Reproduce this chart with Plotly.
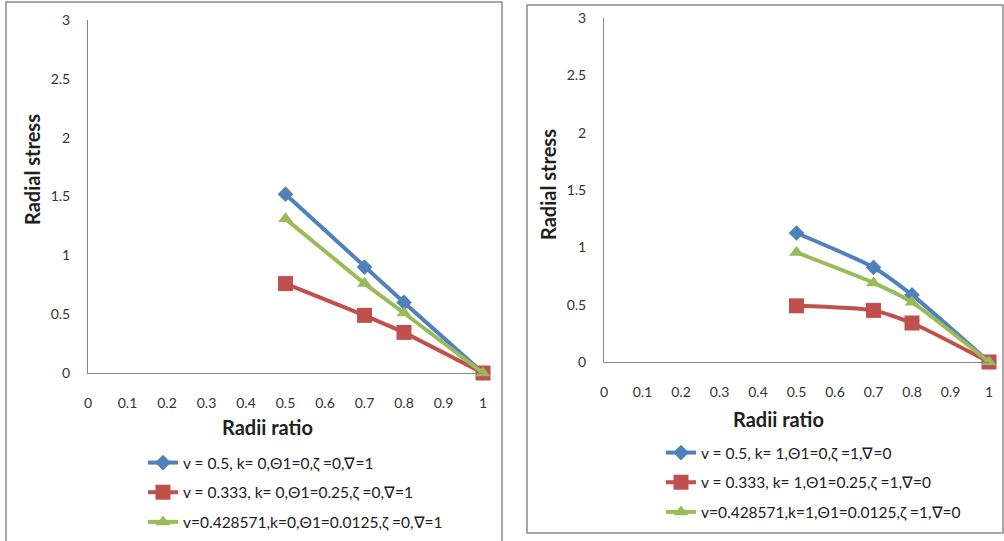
import plotly.graph_objects as go

W, H = 1004, 541

radii = [0.5, 0.7, 0.8, 1.0]

# Left chart (k=0, zeta=0, nabla=1)
left_blue = [1.52, 0.90, 0.60, 0.0]
left_red = [0.76, 0.49, 0.345, 0.0]
left_green = [1.31, 0.76, 0.51, 0.0]
left_names = [
    "v = 0.5, k= 0,Θ1=0,ζ =0,∇=1",
    "v = 0.333, k= 0,Θ1=0.25,ζ =0,∇=1",
    "v=0.428571,k=0,Θ1=0.0125,ζ =0,∇=1",
]

# Right chart (k=1, zeta=1, nabla=0)
right_blue = [1.125, 0.825, 0.585, 0.0]
right_red = [0.49, 0.45, 0.34, 0.0]
right_green = [0.955, 0.69, 0.52, 0.0]
right_names = [
    "v = 0.5, k= 1,Θ1=0,ζ =1,∇=0",
    "v = 0.333, k= 1,Θ1=0.25,ζ =1,∇=0",
    "v=0.428571,k=1,Θ1=0.0125,ζ =1,∇=0",
]

x_ticks = [0, 0.1, 0.2, 0.3, 0.4, 0.5, 0.6, 0.7, 0.8, 0.9, 1]
x_ticktext = ["0", "0.1", "0.2", "0.3", "0.4", "0.5", "0.6", "0.7", "0.8", "0.9", "1"]
y_ticks = [0, 0.5, 1, 1.5, 2, 2.5, 3]
y_ticktext = ["0", "0.5", "1", "1.5", "2", "2.5", "3"]

colors = ["#4F81BD", "#C0504D", "#9BBB59"]
symbols = ["diamond", "square", "triangle-up"]
msizes = [12, 15, 13]

FONT = "Lato, 'Open Sans', sans-serif"


def px(x):
    return x / W


def py(y):
    return 1 - y / H


fig = go.Figure()

left_series = [left_blue, left_red, left_green]
right_series = [right_blue, right_red, right_green]

for i in range(3):
    fig.add_trace(go.Scatter(
        x=radii, y=left_series[i], name=left_names[i], mode="lines+markers",
        line=dict(color=colors[i], width=4),
        marker=dict(symbol=symbols[i], size=msizes[i], color=colors[i]),
        xaxis="x", yaxis="y", legend="legend", legendgroup="l%d" % i,
        cliponaxis=False,
    ))
for i in range(3):
    fig.add_trace(go.Scatter(
        x=radii, y=right_series[i], name=right_names[i], mode="lines+markers",
        line=dict(color=colors[i], width=4, shape="spline", smoothing=0.6),
        marker=dict(symbol=symbols[i], size=msizes[i], color=colors[i]),
        xaxis="x2", yaxis="y2", legend="legend2", legendgroup="r%d" % i,
        cliponaxis=False,
    ))

axis_common = dict(
    showgrid=False, zeroline=False, showline=True, linecolor="#868686",
    linewidth=1, ticks="outside", tickcolor="rgba(0,0,0,0)", automargin=False,
    tickfont=dict(family=FONT, size=14, color="#333333"),
)

fig.update_layout(
    width=W, height=H,
    margin=dict(l=0, r=0, t=0, b=0, autoexpand=False),
    paper_bgcolor="white", plot_bgcolor="white",
    font=dict(family=FONT),
    xaxis=dict(domain=[px(88), px(483)], range=[0, 1], anchor="y",
               tickvals=x_ticks, ticktext=x_ticktext, ticklen=17, **axis_common),
    yaxis=dict(domain=[py(373), py(20)], range=[0, 3], anchor="x",
               tickvals=y_ticks, ticktext=y_ticktext, ticklen=14, **axis_common),
    xaxis2=dict(domain=[px(604), px(989)], range=[0, 1], anchor="y2",
                tickvals=x_ticks, ticktext=x_ticktext, ticklen=17, **axis_common),
    yaxis2=dict(domain=[py(362), py(18)], range=[0, 3], anchor="x2",
                tickvals=y_ticks, ticktext=y_ticktext, ticklen=14, **axis_common),
    legend=dict(x=px(143), y=py(446), xanchor="left", yanchor="top",
                font=dict(family=FONT, size=15.5, color="#202020"),
                tracegroupgap=6.5, itemwidth=30, bgcolor="rgba(0,0,0,0)"),
    legend2=dict(x=px(661), y=py(436), xanchor="left", yanchor="top",
                 font=dict(family=FONT, size=15.5, color="#202020"),
                 tracegroupgap=6.5, itemwidth=30, bgcolor="rgba(0,0,0,0)"),
    showlegend=True,
)

title_font = dict(family=FONT, size=20, color="#202020")
fig.add_annotation(text="<b>Radii ratio</b>", x=px(267), y=py(427), xref="paper", yref="paper",
                   showarrow=False, font=title_font, xanchor="center", yanchor="middle")
fig.add_annotation(text="<b>Radial stress</b>", x=px(32), y=py(170), xref="paper", yref="paper",
                   showarrow=False, font=title_font, textangle=-90, xanchor="center", yanchor="middle")
fig.add_annotation(text="<b>Radii ratio</b>", x=px(778), y=py(419), xref="paper", yref="paper",
                   showarrow=False, font=title_font, xanchor="center", yanchor="middle")
fig.add_annotation(text="<b>Radial stress</b>", x=px(548), y=py(185), xref="paper", yref="paper",
                   showarrow=False, font=title_font, textangle=-90, xanchor="center", yanchor="middle")

# chart frames
fig.add_shape(type="rect", xref="paper", yref="paper",
              x0=px(6), x1=px(502), y0=py(545), y1=py(2),
              line=dict(color="#8C8C8C", width=1.5), layer="below")
fig.add_shape(type="rect", xref="paper", yref="paper",
              x0=px(527), x1=px(1003), y0=py(533), y1=py(5),
              line=dict(color="#8C8C8C", width=1.5), layer="below")

fig.write_html(
    "out.html",
    config={"displayModeBar": False},
    post_script="document.documentElement.style.margin='0';document.body.style.margin='0';"
                "document.body.style.overflow='hidden';",
)
